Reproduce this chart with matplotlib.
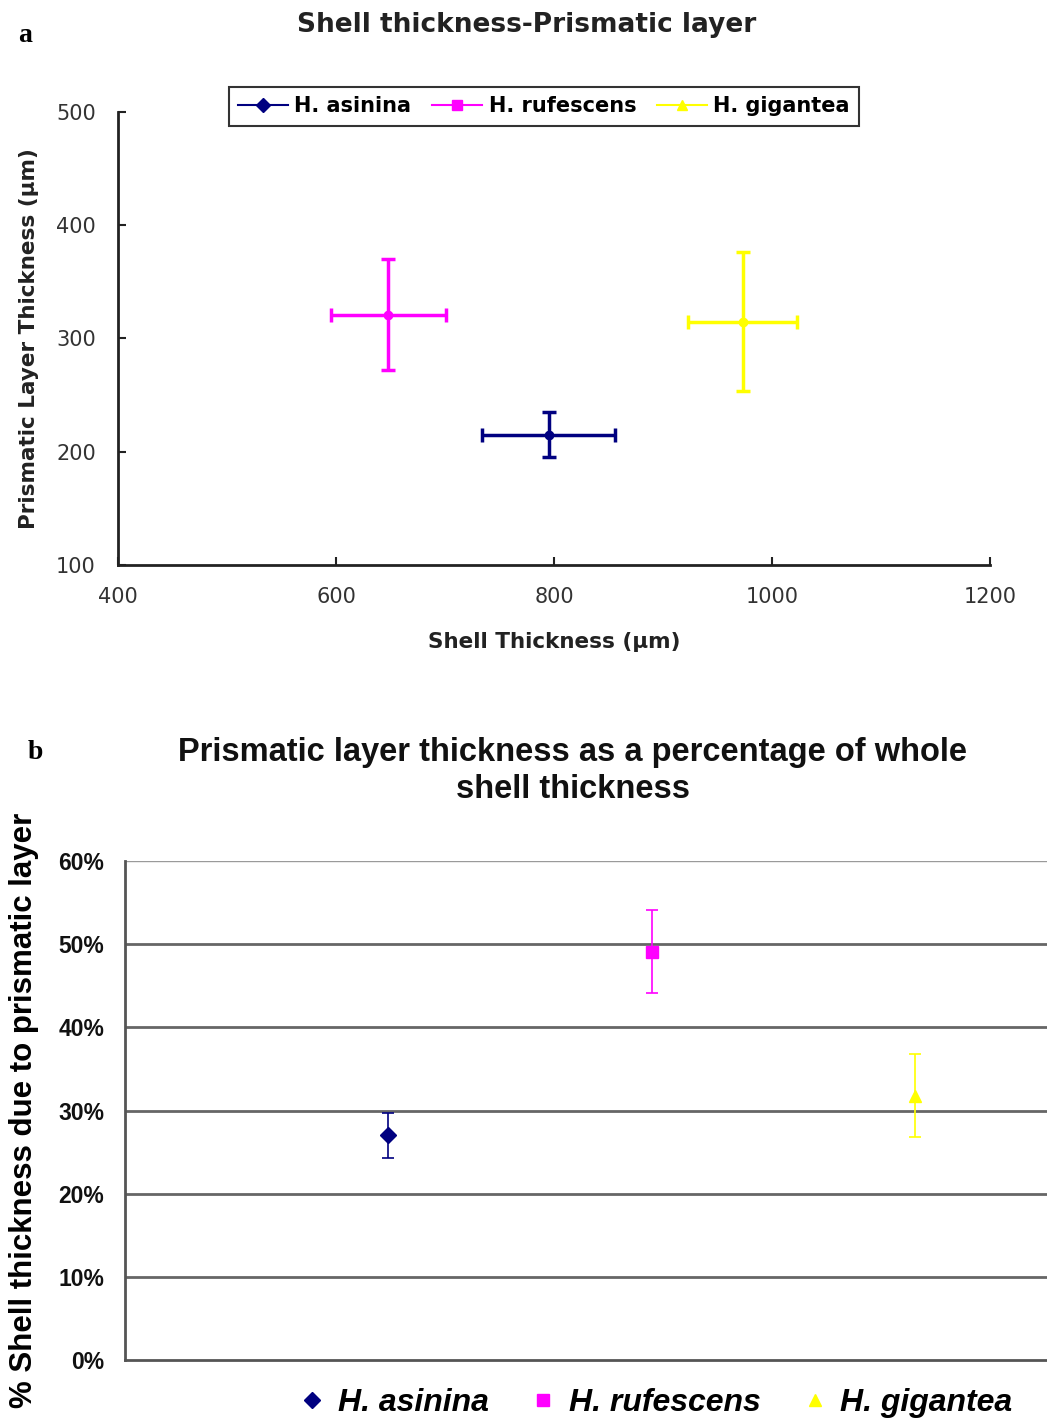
import matplotlib
matplotlib.use("Agg")
import matplotlib.pyplot as plt
from matplotlib.lines import Line2D

# Species and measurements
species = ["H. asinina", "H. rufescens", "H. gigantea"]
colors = ["#000080", "#FF00FF", "#FFFF00"]
markers_a = ["D", "s", "^"]

shell_mean = [795, 648, 973]      # whole shell thickness (µm)
shell_sd = [61, 53, 50]
prism_mean = [215, 321, 315]      # prismatic layer thickness (µm)
prism_sd = [20, 49, 61]

pct_mean = [27.0, 49.1, 31.8]     # prismatic layer as % of shell
pct_sd = [2.7, 5.0, 5.0]

x_ticks_a = [400, 600, 800, 1000, 1200]
y_ticks_a = [100, 200, 300, 400, 500]
y_ticks_b = [0, 10, 20, 30, 40, 50, 60]

W, H = 1047, 1421
fig = plt.figure(figsize=(W / 100, H / 100), dpi=100)

# ---------------- panel a ----------------
ax1 = fig.add_axes([118 / W, 1 - 565 / H, (990 - 118) / W, (565 - 112) / H])
for i, sp in enumerate(species):
    ax1.errorbar(shell_mean[i], prism_mean[i], xerr=shell_sd[i], yerr=prism_sd[i],
                 fmt="o", ms=6, color=colors[i], ecolor=colors[i],
                 elinewidth=2.5, capsize=5, capthick=2.5)
ax1.set_xlim(400, 1200)
ax1.set_ylim(100, 500)
ax1.set_xticks(x_ticks_a)
ax1.set_yticks(y_ticks_a)
ax1.spines["top"].set_visible(False)
ax1.spines["right"].set_visible(False)
for s in ("left", "bottom"):
    ax1.spines[s].set_linewidth(2)
    ax1.spines[s].set_color("#222222")
ax1.tick_params(direction="in", length=6, width=1.5, colors="#222222",
                labelsize=15, labelcolor="#333333")
ax1.tick_params(axis="y", pad=16)
ax1.tick_params(axis="x", pad=16)
ax1.set_xlabel("Shell Thickness (µm)", fontsize=15.5, fontweight="bold",
               color="#222222", labelpad=18)
ax1.set_ylabel("Prismatic Layer Thickness (µm)", fontsize=15.5, fontweight="bold",
               color="#222222", labelpad=12)
fig.text(527 / W, 1 - 25 / H, "Shell thickness-Prismatic layer", ha="center",
         va="center", fontsize=19, fontweight="bold", color="#222222")

handles_a = [Line2D([0], [0], color=colors[i], marker=markers_a[i], ms=7, lw=1.5)
             for i in range(3)]
leg = fig.legend(handles_a, species, loc="center", bbox_to_anchor=(544 / W, 1 - 106.5 / H),
                 ncol=3, frameon=True, fancybox=False, edgecolor="black",
                 prop={"size": 15, "weight": "bold"}, handlelength=2.4,
                 handletextpad=0.3, columnspacing=1.0, borderpad=0.45)
leg.get_frame().set_linewidth(1.5)

fig.text(18 / W, 1 - 35 / H, "a", fontsize=20, fontweight="bold",
         family="Liberation Serif", va="center")

# ---------------- panel b ----------------
ax2 = fig.add_axes([125 / W, 1 - 1360 / H, (W - 125) / W, (1360 - 861) / H])
xpos = [1, 2, 3]
for i, sp in enumerate(species):
    ax2.errorbar(xpos[i], pct_mean[i], yerr=pct_sd[i], fmt=markers_a[i], ms=8,
                 color=colors[i], ecolor=colors[i], elinewidth=1.2,
                 capsize=4, capthick=1.2, zorder=3)
ax2.set_xlim(0, 3.5)
ax2.set_ylim(0, 60)
ax2.set_yticks(y_ticks_b)
ax2.set_yticklabels([f"{v}%" for v in y_ticks_b])
ax2.set_xticks([])
for v in y_ticks_b[1:-1]:
    ax2.axhline(v, color="#666666", lw=2, zorder=1)
ax2.axhline(60, color="#9a9a9a", lw=1, zorder=1)
ax2.spines["top"].set_visible(False)
ax2.spines["right"].set_visible(False)
ax2.spines["left"].set_linewidth(2)
ax2.spines["left"].set_color("#555555")
ax2.spines["bottom"].set_linewidth(2)
ax2.spines["bottom"].set_color("#555555")
ax2.tick_params(axis="y", length=0, pad=15)
for lab in ax2.get_yticklabels():
    lab.set_fontfamily("Liberation Sans")
    lab.set_fontweight("bold")
    lab.set_fontsize(16.5)
    lab.set_color("#111111")
ax2.set_ylabel("% Shell thickness due to prismatic layer", fontsize=22.5,
               fontweight="bold", family="Liberation Sans", labelpad=14)
fig.text(573 / W, 1 - 771 / H,
         "Prismatic layer thickness as a percentage of whole\nshell thickness",
         ha="center", va="center", fontsize=23.5, fontweight="bold",
         family="Liberation Sans", linespacing=1.25, color="#111111")

handles_b = [Line2D([0], [0], color=colors[i], marker=markers_a[i], ms=8, lw=0)
             for i in range(3)]
fig.legend(handles_b, species, loc="center", bbox_to_anchor=(656 / W, 1 - 1403 / H),
           ncol=3, frameon=False,
           prop={"size": 23, "weight": "bold", "style": "italic",
                 "family": "Liberation Sans"},
           handlelength=0.8, handletextpad=0.4, columnspacing=1.3)

fig.text(35 / W, 1 - 752 / H, "b", fontsize=20, fontweight="bold",
         family="Liberation Serif", va="center", ha="center")

fig.savefig("out.png", dpi=100)
